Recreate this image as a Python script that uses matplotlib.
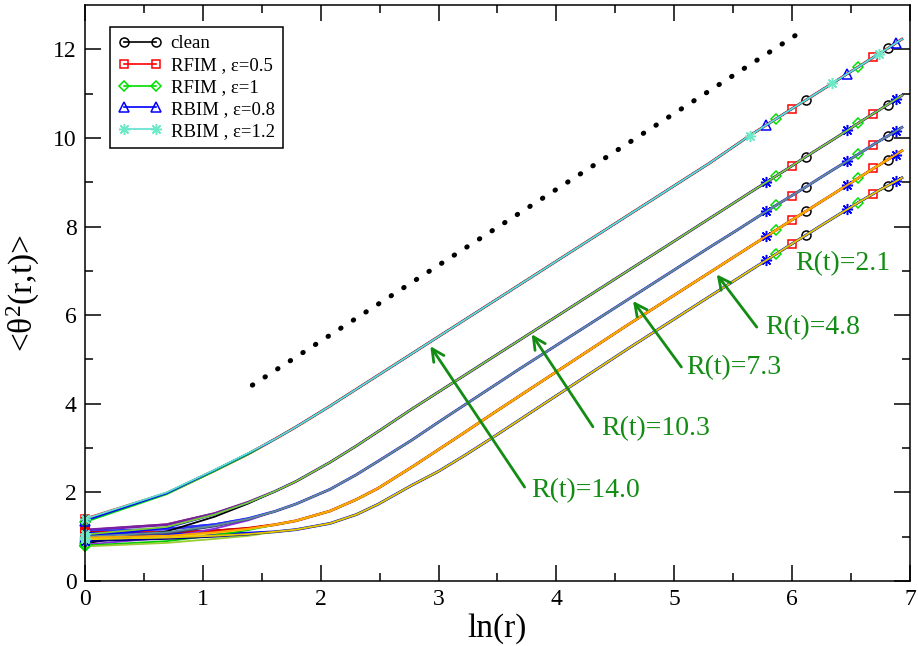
import numpy as np
import matplotlib.pyplot as plt
from matplotlib.lines import Line2D

plt.rcParams['font.family'] = ['Liberation Serif', 'DejaVu Serif']
plt.rcParams['mathtext.fontset'] = 'custom'
plt.rcParams['mathtext.rm'] = 'Liberation Serif'
plt.rcParams['mathtext.it'] = 'Liberation Serif:italic'

# distances r (x axis is ln r)
r_vals = np.array([1, 2, 3, 4, 5, 6, 8, 10, 12, 16, 20, 25, 32, 40, 50, 64, 80, 100,
                   128, 160, 200, 256, 281, 324, 352, 403, 452, 512, 567, 645, 706,
                   804, 845, 907, 972, 1024])

models = ['clean', 'RFIM , ε=0.5', 'RFIM , ε=1', 'RBIM , ε=0.8', 'RBIM , ε=1.2']
R_labels = ['R(t)=14.0', 'R(t)=10.3', 'R(t)=7.3', 'R(t)=4.8', 'R(t)=2.1']

# small-r values (r = 1..4), one row per R(t) group, per model
head_clean = [[1.38, 1.99, 2.50, 2.88], [1.15, 1.28, 1.53, 1.78], [1.10, 1.18, 1.28, 1.41],
              [1.08, 1.10, 1.14, 1.19], [1.05, 1.06, 1.07, 1.08]]
head_rfim05 = [[1.40, 1.98, 2.49, 2.87], [1.15, 1.27, 1.52, 1.78], [1.12, 1.17, 1.27, 1.41],
               [1.10, 1.09, 1.13, 1.19], [1.08, 1.06, 1.06, 1.08]]
head_rfim1 = [[1.33, 1.96, 2.48, 2.86], [0.85, 1.12, 1.45, 1.75], [0.82, 0.98, 1.18, 1.37],
              [0.80, 0.90, 1.03, 1.15], [0.78, 0.86, 0.95, 1.02]]
head_rbim08 = [[1.36, 1.98, 2.50, 2.88], [1.00, 1.20, 1.50, 1.77], [0.95, 1.07, 1.23, 1.39],
               [0.93, 0.98, 1.08, 1.17], [0.90, 0.95, 1.00, 1.05]]
head_rbim12 = [[1.40, 2.00, 2.51, 2.89], [1.05, 1.22, 1.50, 1.77], [1.00, 1.10, 1.25, 1.40],
               [0.98, 1.02, 1.10, 1.18], [0.95, 0.98, 1.02, 1.06]]
heads = [head_clean, head_rfim05, head_rfim1, head_rbim08, head_rbim12]

# r >= 5 values, shared by the models of one R(t) group (curves overlap there)
tail_14 = [3.20, 3.48, 3.95, 4.33, 4.64, 5.13, 5.51, 5.89, 6.31, 6.69, 7.07, 7.49, 7.87, 8.25,
           8.67, 9.05, 9.43, 9.88, 10.05, 10.29, 10.43, 10.66, 10.85, 11.06, 11.23, 11.45,
           11.60, 11.82, 11.90, 12.02, 12.14, 12.23]
tail_103 = [2.02, 2.25, 2.68, 3.05, 3.37, 3.88, 4.26, 4.64, 5.06, 5.44, 5.82, 6.24, 6.62, 7.00,
            7.42, 7.80, 8.18, 8.60, 8.76, 9.00, 9.14, 9.37, 9.57, 9.78, 9.95, 10.17, 10.33,
            10.55, 10.63, 10.75, 10.87, 10.96]
tail_73 = [1.57, 1.74, 2.07, 2.40, 2.70, 3.18, 3.58, 3.97, 4.40, 4.79, 5.17, 5.59, 5.97, 6.35,
           6.77, 7.15, 7.53, 7.94, 8.10, 8.34, 8.48, 8.70, 8.89, 9.10, 9.27, 9.48, 9.63,
           9.85, 9.93, 10.04, 10.15, 10.24]
tail_48 = [1.27, 1.36, 1.58, 1.84, 2.09, 2.57, 2.96, 3.35, 3.79, 4.18, 4.57, 5.00, 5.39, 5.78,
           6.20, 6.58, 6.96, 7.38, 7.54, 7.78, 7.92, 8.15, 8.34, 8.55, 8.72, 8.94, 9.09,
           9.31, 9.39, 9.51, 9.62, 9.71]
tail_21 = [1.11, 1.16, 1.30, 1.50, 1.73, 2.16, 2.47, 2.83, 3.25, 3.64, 4.03, 4.46, 4.85, 5.24,
           5.66, 6.04, 6.42, 6.84, 7.00, 7.24, 7.38, 7.61, 7.80, 8.01, 8.18, 8.39, 8.54,
           8.74, 8.82, 8.92, 9.02, 9.10]
tails = [tail_14, tail_103, tail_73, tail_48, tail_21]

# r values where symbols are drawn
mark_clean = [1, 452, 907]
mark_rfim05 = [1, 403, 804]
mark_rfim1 = [1, 352, 706]
mark_rbim08 = [1, 324, 645, 972]
mark_rbim12 = [1, 281, 567, 845]
mark_r = [mark_clean, mark_rfim05, mark_rfim1, mark_rbim08, mark_rbim12]

# guide line (dotted)
guide_x = [1.42, 6.09]
guide_y = [4.42, 12.42]

# arrows: tip (x, y), tail (x, y), text position
arrow_tip = [(2.93, 5.30), (3.79, 5.57), (4.65, 6.32), (5.36, 6.92), None]
arrow_tail = [(3.73, 2.12), (4.31, 3.48), (5.06, 4.83), (5.70, 5.73), None]
label_pos = [(3.79, 2.05), (4.38, 3.45), (5.10, 4.81), (5.77, 5.73), (6.03, 7.16)]

sym_marker = ['o', 's', 'D', '^', (8, 2, 0)]
sym_size = [6.5, 6, 5.5, 7, 8]
sym_color = ['black', 'red', '#00e000', 'blue', '#6fe8c8']

line_colors = [
    ['black', 'red', '#00dd00', 'blue', '#5fe0cf'],
    ['#a52a2a', '#7b1fa2', 'black', 'blue', '#7ccd32'],
    ['blue', '#3030ff', '#8a2be2', '#404080', '#5f8f90'],
    ['black', '#dd0000', '#00cc00', '#ffd700', '#ffa500'],
    ['#00cc00', 'blue', '#9acd32', '#000080', '#e6c800'],
]
line_widths = [1.3, 2.0, 1.3, 1.3, 1.3]

green = '#138c13'

fig = plt.figure(figsize=(9.18, 6.46), dpi=100)
ax = fig.add_axes([85 / 918, 65 / 646, 825 / 918, 576 / 646])

x = np.log(r_vals)
for g in range(5):
    for m in range(5):
        y = np.array(heads[m][g] + tails[g])
        idx = list(np.searchsorted(r_vals, mark_r[m]))
        marker = sym_marker[m]
        mcol = sym_color[m]
        ms = sym_size[m]
        if g > 0 and m == 3:
            marker, ms = (8, 2, 0), 8
        if g > 0 and m == 4:
            idx = [0]
        ax.plot(x, y, color=line_colors[g][m], lw=line_widths[m],
                marker=marker, markevery=idx, ms=ms, mfc='none',
                mec=mcol, mew=1.1, clip_on=False, zorder=2 + m * 0.1)

handles = [Line2D([], [], color=line_colors[0][m], lw=1.2, marker=sym_marker[m],
                  ms=sym_size[m], mfc='none', mec=sym_color[m], mew=1.1,
                  label=models[m]) for m in range(5)]

ax.plot(guide_x, guide_y, color='black', lw=3.6, linestyle=(0, (0.1, 2.9)),
        dash_capstyle='round')

for k in range(5):
    if arrow_tip[k] is not None:
        ax.annotate('', xy=arrow_tip[k], xytext=arrow_tail[k],
                    arrowprops=dict(arrowstyle='->', color=green, lw=2,
                                    mutation_scale=22, shrinkA=0, shrinkB=0))
    ax.text(label_pos[k][0], label_pos[k][1], R_labels[k], color=green,
            fontsize=20, ha='left', va='center')

ax.set_xlim(0, 7)
ax.set_ylim(0, 13)
ax.set_xticks(range(0, 8))
ax.set_yticks(range(0, 13, 2))
ax.set_xticks(np.arange(0.5, 7, 1), minor=True)
ax.set_yticks(np.arange(1, 13, 2), minor=True)
ax.tick_params(which='both', direction='in', top=True, right=True,
               labelsize=17, width=1.1)
ax.tick_params(which='major', length=11.5, pad=6)
ax.tick_params(which='minor', length=5.8)
for s in ax.spines.values():
    s.set_linewidth(1.1)

ax.set_xlabel('ln(r)', fontsize=24, labelpad=2)
ax.set_ylabel(r'<θ${}^{2}$(r,t)>', fontsize=24, labelpad=8)

leg = ax.legend(handles=handles, loc='upper left', bbox_to_anchor=(0.03, 0.962),
                borderaxespad=0, numpoints=2, handlelength=2.3, fontsize=13.5,
                fancybox=False, framealpha=1, edgecolor='black',
                handletextpad=0.5, labelspacing=0.25, borderpad=0.45)
leg.get_frame().set_linewidth(1.1)

fig.savefig('out.png', dpi=100)
